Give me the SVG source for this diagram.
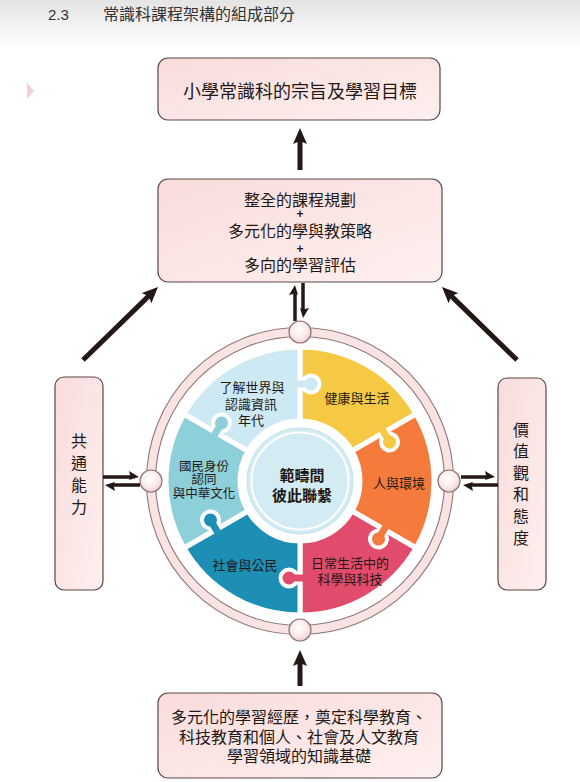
<svg xmlns="http://www.w3.org/2000/svg" width="580" height="782" viewBox="0 0 580 782">
<style>
.box{fill:url(#boxg);stroke:#5b4646;stroke-width:1.2}
.cjk{font-family:"Noto Sans CJK TC","Noto Sans CJK SC",sans-serif;fill:#231815}
.t16{font-size:16px;text-anchor:middle}
.t13{font-size:13px;text-anchor:middle}
.t12{font-size:12.5px;text-anchor:middle}
.plus{font-family:"Liberation Sans",sans-serif;font-size:12px;font-weight:bold;text-anchor:middle;fill:#231815}
.pc{stroke:#fff;stroke-width:5;stroke-linejoin:round}
.ko{stroke:#fff;stroke-width:4}
.arr{stroke:#231815;stroke-width:5;fill:none}
.harp{stroke:#231815;stroke-width:3.5;fill:none}
.ring{fill:none;stroke:#8f7474;stroke-width:1.1}
.node{fill:url(#ng);stroke:#8f7474;stroke-width:1.2}
</style>
<defs>
<linearGradient id="hdr" x1="0" y1="0" x2="0" y2="1">
<stop offset="0" stop-color="#e4e4e4"/><stop offset="1" stop-color="#ffffff"/>
</linearGradient>
<linearGradient id="boxg" x1="0" y1="0" x2="1" y2="1">
<stop offset="0" stop-color="#f9dcdc"/><stop offset="1" stop-color="#fdf0ee"/>
</linearGradient>
<radialGradient id="ng" cx="0.45" cy="0.4" r="0.6">
<stop offset="0" stop-color="#ffffff"/><stop offset="0.6" stop-color="#fbecec"/><stop offset="1" stop-color="#efcfd2"/>
</radialGradient>
<marker id="ah" markerUnits="userSpaceOnUse" viewBox="0 0 16 14" markerWidth="16" markerHeight="14" refX="4" refY="7" orient="auto">
<path d="M0,0 L16,7 L0,14 L3,7 Z" fill="#231815"/>
</marker>
<marker id="hp" markerUnits="userSpaceOnUse" viewBox="0 -7 11 14" markerWidth="11" markerHeight="14" refX="3" refY="0" orient="auto">
<path d="M10,0 L0,-6 L1.5,0 L0,3 Z" fill="#231815"/>
</marker>
</defs>

<rect x="0" y="0" width="580" height="50" fill="url(#hdr)"/>
<rect x="0" y="50" width="580" height="732" fill="#ffffff"/>
<text x="48" y="20" font-family="Liberation Sans, sans-serif" font-size="15" fill="#333">2.3</text>
<text x="103" y="20" class="cjk" font-size="16" style="fill:#333">常識科課程架構的組成部分</text>
<polygon points="27,83 34,91 27,99" fill="#f6cdd3"/>

<g id="node-aims">
<rect class="box" x="158" y="58" width="282" height="62" rx="10"/>
<text class="cjk" x="300" y="98" font-size="18" text-anchor="middle">小學常識科的宗旨及學習目標</text>
</g>

<g id="node-planning">
<rect class="box" x="158" y="179" width="284" height="103" rx="10"/>
<text class="cjk t16" x="300" y="206">整全的課程規劃</text>
<text class="plus" x="300" y="218">+</text>
<text class="cjk t16" x="300" y="237">多元化的學與教策略</text>
<text class="plus" x="300" y="252.5">+</text>
<text class="cjk t16" x="300" y="271">多向的學習評估</text>
</g>

<g id="node-generic">
<rect class="box" x="55" y="377" width="48" height="213" rx="9"/>
<text class="cjk t16" x="79" y="447">共</text>
<text class="cjk t16" x="79" y="469">通</text>
<text class="cjk t16" x="79" y="491">能</text>
<text class="cjk t16" x="79" y="513">力</text>
</g>

<g id="node-values">
<rect class="box" x="498" y="378" width="48" height="212" rx="9"/>
<text class="cjk t16" x="521" y="435.5">價</text>
<text class="cjk t16" x="521" y="457.1">值</text>
<text class="cjk t16" x="521" y="478.7">觀</text>
<text class="cjk t16" x="521" y="500.3">和</text>
<text class="cjk t16" x="521" y="521.9">態</text>
<text class="cjk t16" x="521" y="543.5">度</text>
</g>

<g id="node-experience">
<rect class="box" x="158" y="693" width="284" height="85" rx="10"/>
<text class="cjk t16" x="299" y="723">多元化的學習經歷，奠定科學教育、</text>
<text class="cjk t16" x="299" y="742.5">科技教育和個人、社會及人文教育</text>
<text class="cjk t16" x="299" y="762">學習領域的知識基礎</text>
</g>

<g id="node-wheel">
<circle cx="300" cy="481" r="149" fill="none" stroke="#fae3e3" stroke-width="8"/>
<circle class="ring" cx="300" cy="481" r="153.5"/>
<circle class="ring" cx="300" cy="481" r="144.5"/>

<path class="pc" fill="#f6c944" d="M300,347 A134,134 0 0 1 416.05,414 L351.96,451 A60,60 0 0 0 300,421 Z"/>
<path class="pc" fill="#f47b3c" d="M416.05,414 A134,134 0 0 1 416.05,548 L351.96,511 A60,60 0 0 0 351.96,451 Z"/>
<path class="pc" fill="#e24c6c" d="M416.05,548 A134,134 0 0 1 300,615 L300,541 A60,60 0 0 0 351.96,511 Z"/>
<path class="pc" fill="#1d8fb4" d="M300,615 A134,134 0 0 1 183.95,548 L248.04,511 A60,60 0 0 0 300,541 Z"/>
<path class="pc" fill="#8dd0da" d="M183.95,548 A134,134 0 0 1 183.95,414 L248.04,451 A60,60 0 0 0 248.04,511 Z"/>
<path class="pc" fill="#cde9f3" d="M183.95,414 A134,134 0 0 1 300,347 L300,421 A60,60 0 0 0 248.04,451 Z"/>

<g transform="translate(300,481) rotate(-90)" fill="#cde9f3">
<circle class="ko" cx="97" cy="11" r="8.5"/><rect x="93.5" y="-3" width="7" height="10"/>
</g>
<g transform="translate(300,481) rotate(-30)" fill="#f6c944">
<circle class="ko" cx="97" cy="11" r="8.5"/><rect x="93.5" y="-3" width="7" height="10"/>
</g>
<g transform="translate(300,481) rotate(30)" fill="#f47b3c">
<circle class="ko" cx="97" cy="11" r="8.5"/><rect x="93.5" y="-3" width="7" height="10"/>
</g>
<g transform="translate(300,481) rotate(90)" fill="#e24c6c">
<circle class="ko" cx="97" cy="11" r="8.5"/><rect x="93.5" y="-3" width="7" height="10"/>
</g>
<g transform="translate(300,481) rotate(150)" fill="#1d8fb4">
<circle class="ko" cx="97" cy="11" r="8.5"/><rect x="93.5" y="-3" width="7" height="10"/>
</g>
<g transform="translate(300,481) rotate(-150)" fill="#8dd0da">
<circle class="ko" cx="97" cy="11" r="8.5"/><rect x="93.5" y="-3" width="7" height="10"/>
</g>

<circle cx="300" cy="481" r="53" fill="#d3ecf4" stroke="#bfe2ec" stroke-width="1"/>
<circle cx="300" cy="481" r="48.5" fill="none" stroke="#ffffff" stroke-width="2"/>

<circle class="node" cx="300" cy="332" r="11"/>
<circle class="node" cx="300" cy="630" r="11"/>
<circle class="node" cx="151" cy="481" r="11"/>
<circle class="node" cx="449" cy="481" r="11"/>

<text class="cjk" x="302" y="480.5" font-size="15" font-weight="bold" text-anchor="middle">範疇間</text>
<text class="cjk" x="302" y="500.5" font-size="15" font-weight="bold" text-anchor="middle">彼此聯繫</text>

<text class="cjk t13" x="252" y="392">了解世界與</text>
<text class="cjk t13" x="251" y="409">認識資訊</text>
<text class="cjk t13" x="251" y="425">年代</text>
<text class="cjk t13" x="357" y="402.5">健康與生活</text>
<text class="cjk t13" x="399" y="487.5">人與環境</text>
<text class="cjk t13" x="350" y="567.5">日常生活中的</text>
<text class="cjk t13" x="350" y="584">科學與科技</text>
<text class="cjk t13" x="245" y="570">社會與公民</text>
<text class="cjk t12" x="204" y="471">國民身份</text>
<text class="cjk t12" x="204" y="484">認同</text>
<text class="cjk t12" x="204" y="497.5">與中華文化</text>
</g>

<g id="connectors">
<line class="arr" x1="300" y1="170" x2="300" y2="140" marker-end="url(#ah)"/>
<line class="arr" x1="300" y1="686" x2="300" y2="662" marker-end="url(#ah)"/>
<line class="arr" x1="83" y1="360" x2="149.4" y2="295.4" marker-end="url(#ah)"/>
<line class="arr" x1="517" y1="360" x2="450.6" y2="295.4" marker-end="url(#ah)"/>

<line class="harp" x1="295" y1="321" x2="295" y2="292" marker-end="url(#hp)"/>
<line class="harp" x1="303" y1="283" x2="303" y2="311" marker-end="url(#hp)"/>
<line class="harp" x1="103" y1="477" x2="132" y2="477" marker-end="url(#hp)"/>
<line class="harp" x1="140" y1="485" x2="112" y2="485" marker-end="url(#hp)"/>
<line class="harp" x1="461" y1="477" x2="488" y2="477" marker-end="url(#hp)"/>
<line class="harp" x1="498" y1="485" x2="470" y2="485" marker-end="url(#hp)"/>
</g>
</svg>
